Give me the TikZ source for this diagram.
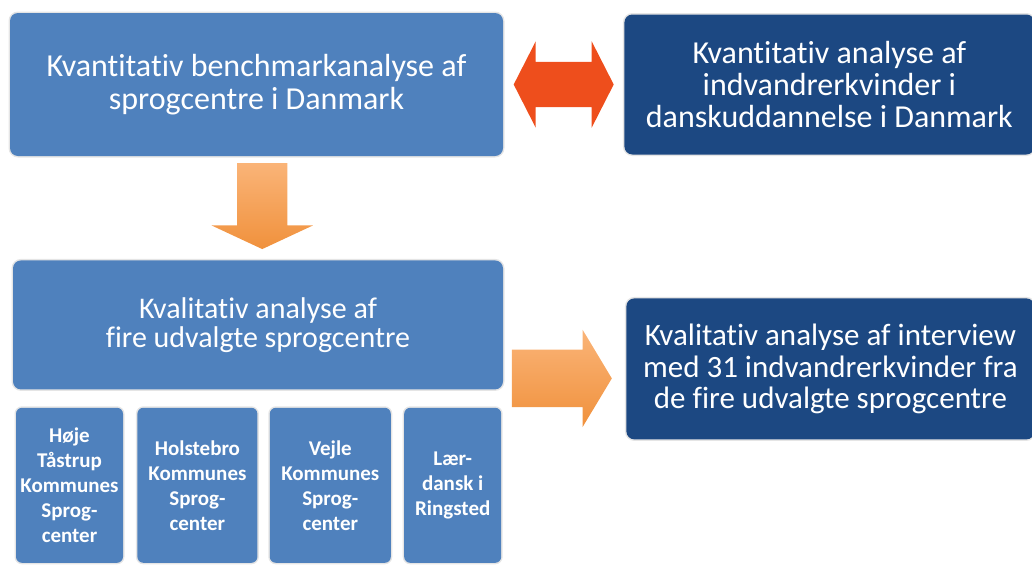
\documentclass[tikz,border=0pt]{standalone}
\usepackage{fontspec}
\setmainfont{Carlito}[Ligatures=NoCommon]
\usetikzlibrary{calc, positioning, shapes.arrows}
\definecolor{bleuclair}{RGB}{79,129,189}
\definecolor{bleufonce}{RGB}{28,72,130}
\definecolor{rougefleche}{RGB}{238,78,28}
\definecolor{orangefleche}{RGB}{240,145,60}
\definecolor{orangeclair}{RGB}{250,180,120}

\begin{document}
\begin{tikzpicture}[
    x=1pt, y=-1pt,
    boite/.style={rounded corners=8pt, text=white, align=center,
                  inner sep=0pt, preaction={draw=black!10, line width=3pt}},
    claire/.style={boite, fill=bleuclair},
    foncee/.style={boite, fill=bleufonce},
    centre/.style={claire, rounded corners=6pt, minimum height=155pt,
                   font=\fontsize{21}{25}\selectfont\bfseries},
    fleche/.style={single arrow, top color=orangeclair,
                   bottom color=orangefleche}
]
\useasboundingbox (0,0) rectangle (1032,565);

% --- Analyses quantitatives (en haut) ---
\node[claire, font=\fontsize{32}{33.3}\selectfont,
      minimum width=493pt, minimum height=143pt]
    (quant) at (256.5,84.5) {Kvantitativ benchmarkanalyse af\\sprogcentre i Danmark};
\node[foncee, font=\fontsize{32}{31.7}\selectfont,
      minimum width=410pt, minimum height=140pt,
      right=121pt of quant] (indv)
    {Kvantitativ analyse af\\indvandrerkvinder i\\danskuddannelse i Danmark};

% --- Analyses qualitatives (au milieu) ---
\node[claire, font=\fontsize{30}{29}\selectfont,
      minimum width=490pt, minimum height=129pt,
      below=104pt of quant, xshift=1.5pt] (qual)
    {Kvalitativ analyse af\\fire udvalgte sprogcentre};
\node[foncee, font=\fontsize{31}{31.7}\selectfont,
      minimum width=408pt, minimum height=141pt,
      right=123pt of qual, yshift=-44pt] (inter)
    {Kvalitativ analyse af interview\\med 31 indvandrerkvinder fra\\de fire udvalgte sprogcentre};

% --- Les quatre sprogcentre (en bas) ---
\node[centre, minimum width=107pt, below=18pt of qual.south west,
      anchor=north west, xshift=3pt] (hoeje) {Høje\\Tåstrup\\Kommunes\\Sprog-\\center};
\node[centre, minimum width=120pt, right=14pt of hoeje] (holst)
    {Holstebro\\Kommunes\\Sprog-\\center};
\node[centre, minimum width=121pt, right=12pt of holst] (vejle)
    {Vejle\\Kommunes\\Sprog-\\center};
\node[centre, minimum width=97pt, right=13pt of vejle] (ringsted)
    {Lær-\\dansk i\\Ringsted};

% --- Flèches ---
\node[double arrow, fill=rougefleche, inner xsep=0pt, inner ysep=22.5pt,
      minimum height=100pt, minimum width=86pt,
      double arrow head extend=20.5pt, double arrow tip angle=126]
    (entre) at ($(quant.east)!.5!(indv.west)$) {};
\node[fleche, shape border rotate=270, inner xsep=25pt, inner ysep=0pt,
      minimum height=86pt, minimum width=101pt,
      single arrow head extend=25.5pt, single arrow tip angle=130]
    (versqual) at ($(quant.south)!.5!(qual.north)+(5,-8)$) {};
\node[fleche, inner xsep=0pt, inner ysep=28.5pt,
      minimum height=100pt, minimum width=97pt,
      single arrow head extend=20pt, single arrow tip angle=118]
    (versinter) at ($(qual.east)+(50,53.5)$) {};

\end{tikzpicture}
\end{document}
